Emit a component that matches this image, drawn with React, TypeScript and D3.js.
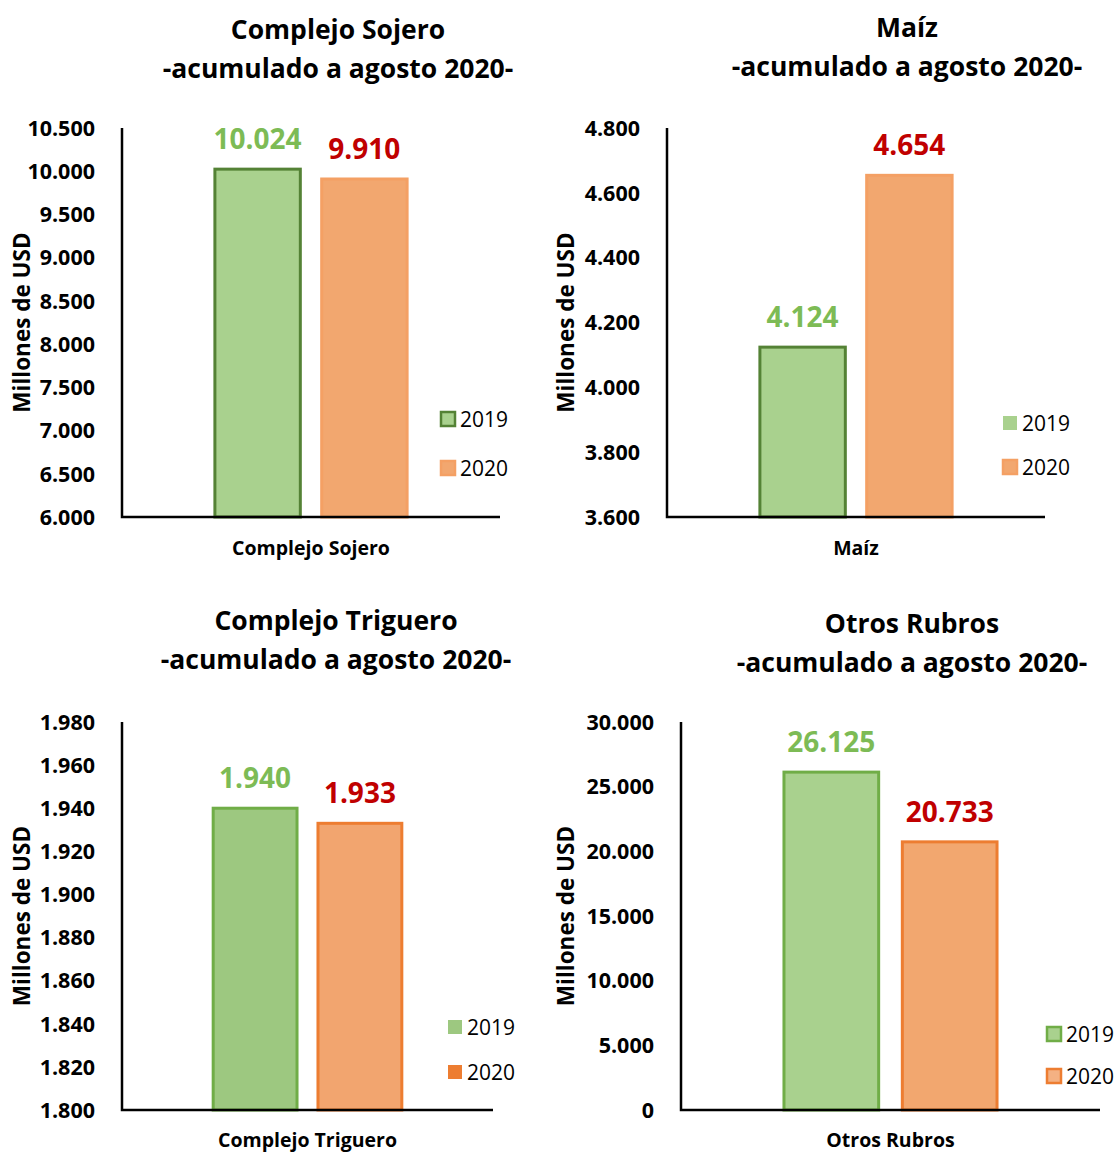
import React, { useRef, useEffect } from "react";
import { select, scaleBand, scaleLinear, range, formatLocale } from "d3";

// chart data
const categories = ["Complejo Sojero", "Maíz", "Complejo Triguero", "Otros Rubros"];
const years = ["2019", "2020"];
const values2019 = [10024, 4124, 1940, 26125];
const values2020 = [9910, 4654, 1933, 20733];
const axisMin = [6000, 3600, 1800, 0];
const axisMax = [10500, 4800, 1980, 30000];
const axisStep = [500, 200, 20, 5000];
const subtitle = "-acumulado a agosto 2020-";
const yTitle = "Millones de USD";

// layout + styling per panel
const panels = [
  { x0: 122, x1: 500, top: 128, bottom: 517, titleX: 338, titleY: 39, catY: 555, yTitleX: 22, legX: 441, legY: [419, 468],
    fill: ["#A9D18E", "#F2A76F"], stroke: ["#548235", "#F4A064"], legFill: ["#A9D18E", "#F2A76F"], legStroke: ["#548235", "#F4A064"] },
  { x0: 667, x1: 1045, top: 128, bottom: 517, titleX: 907, titleY: 37, catY: 555, yTitleX: 566, legX: 1003, legY: [423, 467],
    fill: ["#A9D18E", "#F2A76F"], stroke: ["#548235", "#F4A064"], legFill: ["#A9D18E", "#F2A76F"], legStroke: [null, "#F4A064"] },
  { x0: 122, x1: 493, top: 722, bottom: 1110, titleX: 336, titleY: 630, catY: 1147, yTitleX: 22, legX: 448, legY: [1027, 1072],
    fill: ["#9DC880", "#F2A56F"], stroke: ["#70AD47", "#ED7D31"], legFill: ["#9DC880", "#ED7D31"], legStroke: [null, null] },
  { x0: 681, x1: 1100, top: 722, bottom: 1110, titleX: 912, titleY: 633, catY: 1147, yTitleX: 566, legX: 1047, legY: [1034, 1076],
    fill: ["#A9D18E", "#F2A76F"], stroke: ["#70AD47", "#ED7D31"], legFill: ["#A9D18E", "#F4B183"], legStroke: ["#70AD47", "#ED7D31"] },
];

const locale = formatLocale({ decimal: ",", thousands: ".", grouping: [3], currency: ["", ""] });
const fmt = locale.format(",d");
const FONT = "'Open Sans', sans-serif";

function App() {
  const svgRef = useRef(null);

  useEffect(() => {
    const svg = select(svgRef.current);
    svg.selectAll("*").remove();

    panels.forEach((p, i) => {
      const g = svg.append("g");
      const data = [values2019[i], values2020[i]];

      const yScale = scaleLinear().domain([axisMin[i], axisMax[i]]).range([p.bottom, p.top]);
      const xScale = scaleBand().domain(years).range([p.x0, p.x1]).paddingInner(0.2).paddingOuter(0.87);

      // title
      const title = g.append("text")
        .attr("x", p.titleX)
        .attr("y", p.titleY)
        .attr("text-anchor", "middle")
        .attr("font-family", FONT)
        .attr("font-weight", "bold")
        .attr("font-size", 26.5)
        .attr("fill", "#000");
      title.append("tspan").attr("x", p.titleX).text(categories[i]);
      title.append("tspan").attr("x", p.titleX).attr("dy", 39).text(subtitle);

      // bars
      g.selectAll(".bar")
        .data(data)
        .join("rect")
        .attr("class", "bar")
        .attr("x", (d, j) => xScale(years[j]))
        .attr("width", xScale.bandwidth())
        .attr("y", (d) => yScale(d))
        .attr("height", (d) => p.bottom - yScale(d))
        .attr("fill", (d, j) => p.fill[j])
        .attr("stroke", (d, j) => p.stroke[j])
        .attr("stroke-width", 3);

      // value labels
      g.selectAll(".label")
        .data(data)
        .join("text")
        .attr("class", "label")
        .attr("x", (d, j) => xScale(years[j]) + xScale.bandwidth() / 2)
        .attr("y", (d) => yScale(d) - 20)
        .attr("text-anchor", "middle")
        .attr("font-family", FONT)
        .attr("font-weight", "bold")
        .attr("font-size", 28)
        .attr("fill", (d, j) => (j === 0 ? "#7DBB55" : "#C00000"))
        .text((d) => fmt(d));

      // tick labels
      const ticks = range(axisMin[i], axisMax[i] + axisStep[i] / 2, axisStep[i]);
      g.selectAll(".tick")
        .data(ticks)
        .join("text")
        .attr("class", "tick")
        .attr("x", p.x0 - 27)
        .attr("y", (d) => yScale(d))
        .attr("dy", "0.36em")
        .attr("text-anchor", "end")
        .attr("font-family", FONT)
        .attr("font-weight", "bold")
        .attr("font-size", 21.5)
        .attr("fill", "#000")
        .text((d) => fmt(d));

      // axes
      g.append("path")
        .attr("d", `M${p.x0},${p.top}V${p.bottom}H${p.x1}`)
        .attr("fill", "none")
        .attr("stroke", "#000")
        .attr("stroke-width", 2.5);

      // y title
      g.append("text")
        .attr("transform", `translate(${p.yTitleX},${(p.top + p.bottom) / 2}) rotate(-90)`)
        .attr("dy", "0.36em")
        .attr("text-anchor", "middle")
        .attr("font-family", FONT)
        .attr("font-weight", "bold")
        .attr("font-size", 22.5)
        .attr("fill", "#000")
        .text(yTitle);

      // category label
      g.append("text")
        .attr("x", (p.x0 + p.x1) / 2)
        .attr("y", p.catY)
        .attr("text-anchor", "middle")
        .attr("font-family", FONT)
        .attr("font-weight", "bold")
        .attr("font-size", 19.5)
        .attr("fill", "#000")
        .text(categories[i]);

      // legend
      years.forEach((yr, j) => {
        g.append("rect")
          .attr("x", p.legX)
          .attr("y", p.legY[j] - 7)
          .attr("width", 14)
          .attr("height", 14)
          .attr("fill", p.legFill[j])
          .attr("stroke", p.legStroke[j] || "none")
          .attr("stroke-width", 2.5);
        g.append("text")
          .attr("x", p.legX + 19)
          .attr("y", p.legY[j])
          .attr("dy", "0.36em")
          .attr("font-family", FONT)
          .attr("font-size", 21)
          .attr("fill", "#000")
          .text(yr);
      });
    });
  }, []);

  return (
    <svg
      ref={svgRef}
      width={1118}
      height={1152}
      style={{ position: "absolute", left: 0, top: 0, background: "#fff" }}
    ></svg>
  );
}

export default App;
